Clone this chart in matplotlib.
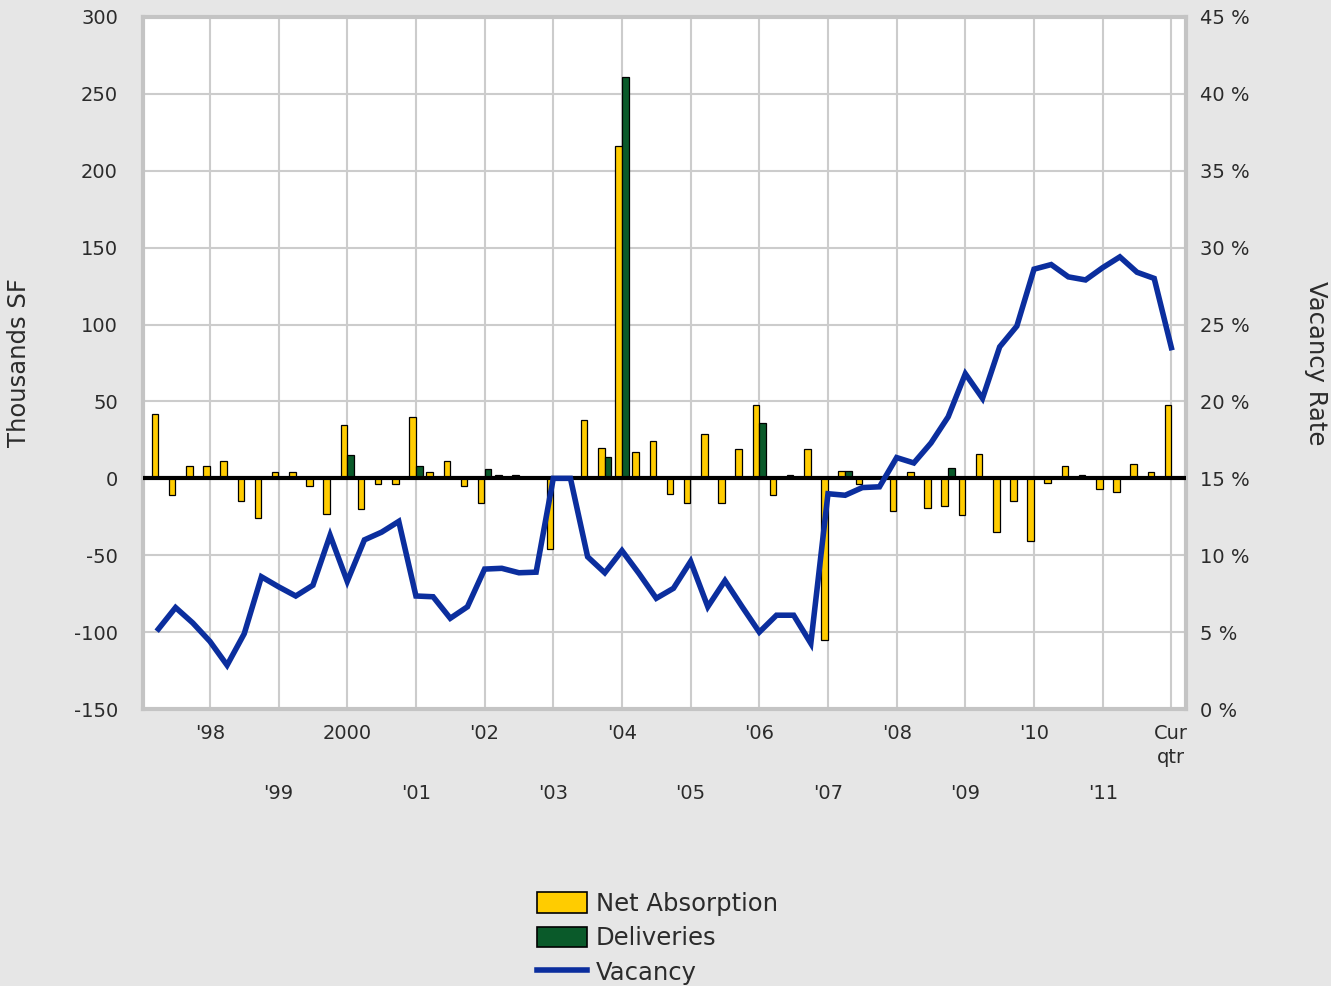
import matplotlib
matplotlib.use('Agg')
import matplotlib.pyplot as plt
from matplotlib.patches import Patch
from matplotlib.lines import Line2D

# quarterly values, 60 quarters ending at the current quarter
absorption = [42, -11, 8, 8, 11, -15, -26, 4, 4, -5,
              -23, 35, -20, -4, -4, 40, 4, 11, -5, -16,
              2, 2, 0, -46, 1, 38, 20, 216, 17, 24,
              -10, -16, 29, -16, 19, 48, -11, 2, 19, -105,
              5, -4, 0, -21, 4, -19, -18, -24, 16, -35,
              -15, -41, -3, 8, 2, -7, -9, 9, 4, 48]
deliveries = [0, 0, 0, 0, 0, 0, 0, 0, 0, 0,
              0, 15, 0, 0, 0, 8, 0, 0, 0, 6,
              0, 0, 0, 0, 1, 0, 14, 261, 0, 0,
              0, 0, 0, 0, 0, 36, 0, 0, 0, 0,
              5, 0, 0, 0, 0, 0, 7, 0, 0, 0,
              0, 0, 0, 0, 0, 0, 0, 0, 0, 0]
vacancy = [5.2, 6.6, 5.6, 4.4, 2.85, 4.9, 8.6, 7.95, 7.35, 8.05,
           11.3, 8.3, 11.0, 11.5, 12.2, 7.35, 7.3, 5.9, 6.65, 9.1,
           9.15, 8.86, 8.9, 15.0, 15.0, 9.9, 8.86, 10.3, 8.8, 7.2,
           7.85, 9.6, 6.65, 8.35, 6.65, 5.0, 6.1, 6.1, 4.27, 14.0,
           13.9, 14.4, 14.45, 16.35, 16.0, 17.3, 19.0, 21.8, 20.2, 23.55,
           24.9, 28.6, 28.9, 28.1, 27.9, 28.7, 29.4, 28.4, 28.0, 23.5]

row1_pos = [3, 11, 19, 27, 35, 43, 51, 59]
row1_labels = ["'98", "2000", "'02", "'04", "'06", "'08", "'10", "Cur\nqtr"]
row2_pos = [7, 15, 23, 31, 39, 47, 55]
row2_labels = ["'99", "'01", "'03", "'05", "'07", "'09", "'11"]

left_ticks = [-150, -100, -50, 0, 50, 100, 150, 200, 250, 300]
right_ticks = [0, 5, 10, 15, 20, 25, 30, 35, 40, 45]

bg = '#e6e6e6'
yellow = '#ffcc00'
green = '#0a5a2a'
blue = '#0b2e9e'
txt = '#2b2b2b'

plt.rcParams['font.family'] = 'DejaVu Sans'
plt.rcParams['axes.unicode_minus'] = False

fig = plt.figure(figsize=(13.31, 9.86), dpi=100, facecolor=bg)
ax = fig.add_axes([0.1074, 0.2809, 0.7835, 0.7019])
ax.set_facecolor('white')

x = list(range(len(absorption)))
ax.bar([i - 0.2 for i in x], absorption, width=0.38, color=yellow,
       edgecolor='black', linewidth=0.9, zorder=2)
ax.bar([i + 0.2 for i in x], deliveries, width=0.38, color=green,
       edgecolor='black', linewidth=0.9, zorder=2)
ax.axhline(0, color='black', lw=3, zorder=3)

ax.set_xlim(-0.9, 59.84)
ax.set_ylim(-150, 300)
ax.set_yticks(left_ticks)
ax.set_xticks(row1_pos, row1_labels)
ax.set_xticks(row2_pos, row2_labels, minor=True)
ax.grid(True, which='both', color='#cccccc', lw=1.5, zorder=0)
ax.set_axisbelow(True)
ax.tick_params(axis='x', which='major', length=0, pad=11, labelsize=14, labelcolor=txt)
ax.tick_params(axis='x', which='minor', length=0, pad=54, labelsize=14, labelcolor=txt)
ax.tick_params(axis='y', length=0, pad=18, labelsize=14, labelcolor=txt)
for lab in ax.get_xticklabels():
    lab.set_linespacing(1.3)
for s in ax.spines.values():
    s.set_color('#c4c4c4')
    s.set_linewidth(3)

ax.set_ylabel('Thousands SF', fontsize=17.5, color=txt)
ax.yaxis.set_label_coords(-0.107, 0.5)

ax2 = ax.twinx()
ax2.plot(x, vacancy, color=blue, lw=4, solid_joinstyle='miter', zorder=4)
ax2.set_ylim(0, 45)
ax2.set_yticks(right_ticks, [f'{t} %' for t in right_ticks])
ax2.tick_params(axis='y', length=0, pad=10, labelsize=14, labelcolor=txt)
for s in ax2.spines.values():
    s.set_visible(False)
ax2.set_ylabel('Vacancy Rate', fontsize=17.5, color=txt, rotation=270, va='bottom')
ax2.yaxis.set_label_coords(1.113, 0.5)

handles = [Patch(facecolor=yellow, edgecolor='black', lw=1.2),
           Patch(facecolor=green, edgecolor='black', lw=1.2),
           Line2D([0], [0], color=blue, lw=4)]
fig.legend(handles, ['Net Absorption', 'Deliveries', 'Vacancy'],
           loc='upper center', bbox_to_anchor=(0.494, 0.1075), frameon=False,
           fontsize=17.5, handlelength=2.05, handleheight=0.95, handletextpad=0.35,
           labelspacing=0.42, borderpad=0, labelcolor=txt)

fig.savefig('out.png', dpi=100, facecolor=bg)
